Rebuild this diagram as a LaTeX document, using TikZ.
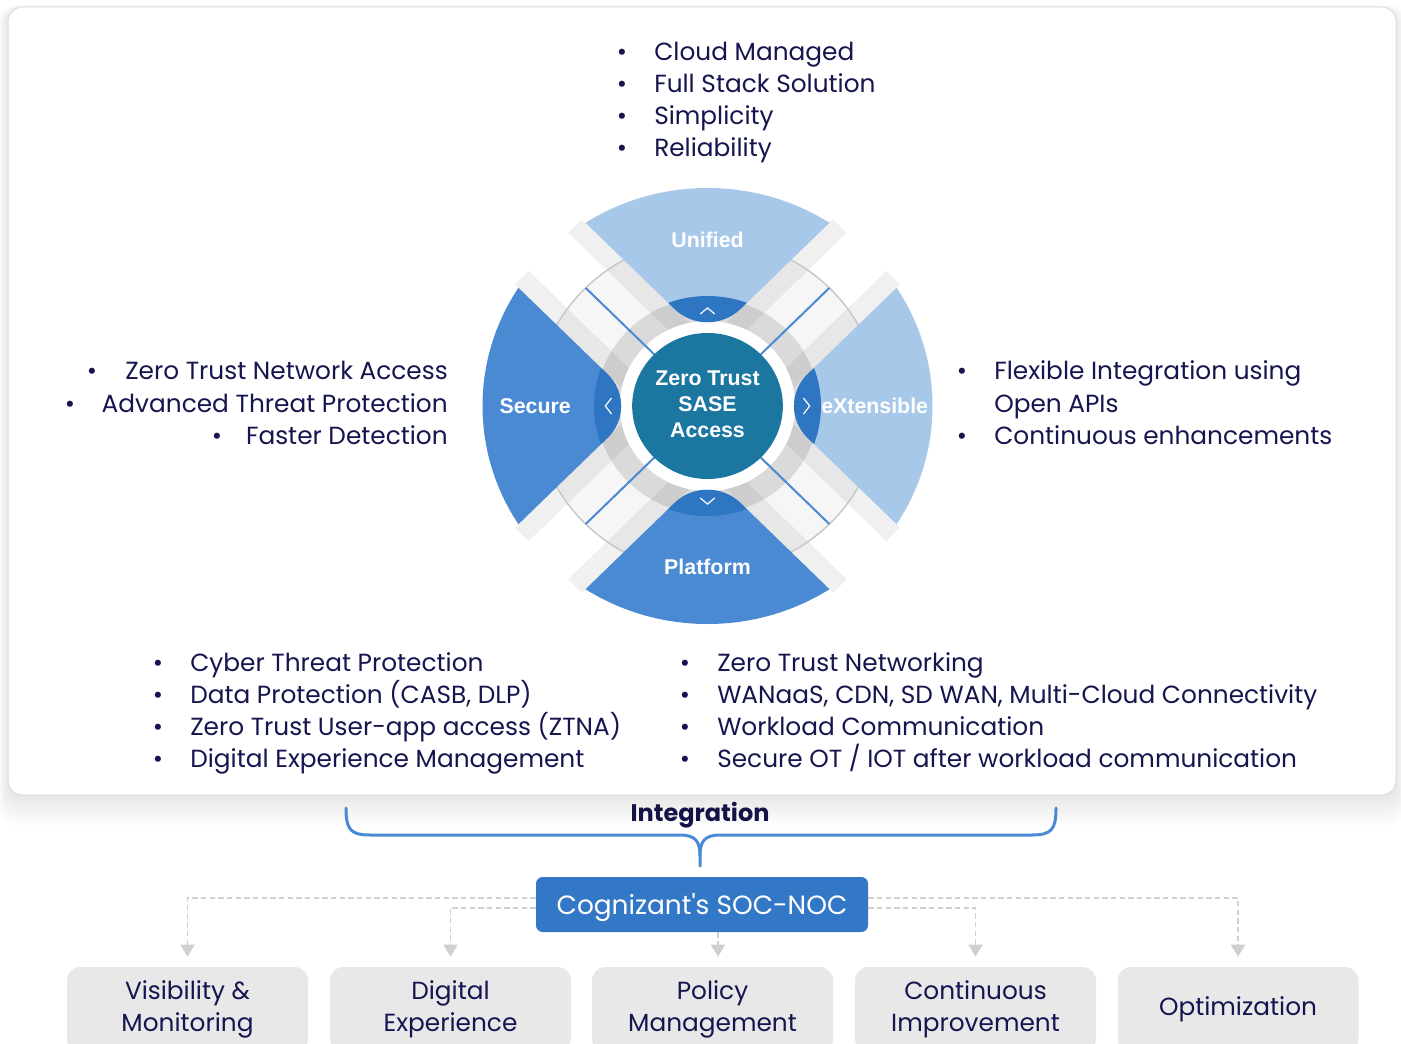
\documentclass[tikz,border=0pt]{standalone}
\usepackage{fontspec}
\setmainfont{Poppins}
\newfontfamily\labfont{Liberation Sans}
\usetikzlibrary{calc,arrows.meta}
\definecolor{navy}{HTML}{15154F}
\definecolor{lblue}{HTML}{A8C8EA}
\definecolor{mblue}{HTML}{4A8AD3}
\definecolor{dblue}{HTML}{2F76C2}
\definecolor{ctrteal}{HTML}{1B77A0}
\definecolor{socblue}{HTML}{3278C6}
\definecolor{boxgray}{HTML}{E8E8E8}
\definecolor{dashgray}{HTML}{D0D0D0}
\definecolor{ringgray}{HTML}{DADADA}
\definecolor{ringlight}{HTML}{F6F6F6}
\definecolor{thingray}{HTML}{C8C8C8}
\tikzset{
  txt/.style={font=\fontsize{18.6}{24}\selectfont, text=navy, inner sep=0pt},
  bul/.style={txt, anchor=base},
  lab/.style={font=\labfont\bfseries\fontsize{16}{19.5}\selectfont, text=white, inner sep=0pt, align=center},
  bbox/.style={txt, fill=boxgray, rounded corners=10pt, minimum width=180.75pt, minimum height=63.75pt, align=center},
  dline/.style={draw=dashgray, line width=1.1pt, dash pattern=on 4pt off 2.5pt, shorten >=7.5pt, -{Triangle[width=10.5pt,length=9pt,fill=dashgray]}},
  chev/.style={draw=white, line width=0.9pt},
}
\begin{document}
\begin{tikzpicture}[x=0.75pt,y=-0.75pt]
\useasboundingbox (0,0) rectangle (1401,1044);
% frame with soft shadow
\foreach \i in {1,...,12}
  \fill[black, opacity=0.006, rounded corners=12pt] (8-\i*0.8,7-\i*0.4+3) rectangle (1396+\i*0.8,795+\i*2.5);
\draw[fill=white, draw=black!13, line width=0.75pt, rounded corners=11pt] (8,7) rectangle (1396,795);

% ---------- central diagram ----------
\begin{scope}[shift={(707.5,406)}, x=0.774pt, y=0.75pt]
  \fill[ringlight] (0,0) circle (167);
  \fill[ringgray] (0,0) circle (108);
  \foreach \a in {45,135,225,315} {
    \fill[black, opacity=0.06] ($(\a+90:27)$) -- ($(\a:218)+(\a+90:27)$) -- ($(\a:218)+(\a+90:46)$) -- ($(\a+90:46)$) -- cycle;
    \fill[black, opacity=0.06] ($(\a-90:27)$) -- ($(\a:218)+(\a-90:27)$) -- ($(\a:218)+(\a-90:46)$) -- ($(\a-90:46)$) -- cycle;
  }
  \draw[thingray, line width=1.1pt] (0,0) circle (167);
  \fill[white] (0,0) circle (85);
  \foreach \col/\px/\py/\qx/\qy/\rx/\ry in {lblue/-300/365/0/65/300/365, mblue/-300/-365/0/-65/300/-365, lblue/365/300/65/0/365/-300, mblue/-365/300/-65/0/-365/-300} {
    \begin{scope}
      \clip (0,0) circle (218);
      \fill[\col, rounded corners=34.5pt] (\px,\py) -- (\qx,\qy) -- (\rx,\ry) -- cycle;
    \end{scope}
    \begin{scope}
      \clip (0,0) circle (110);
      \fill[dblue, rounded corners=34.5pt] (\px,\py) -- (\qx,\qy) -- (\rx,\ry) -- cycle;
    \end{scope}
  }
  \foreach \a in {45,135,225,315}
    \draw[mblue, line width=1.5pt] (\a:73) -- (\a:167);
  \fill[ctrteal] (0,0) circle (73);
  \node[lab] (ctr) at (0,2) {Zero Trust\\SASE\\Access};
  \node[lab] (unified) at (0,166) {Unified};
  \node[lab] (secure) at (-167,0) {Secure};
  \node[lab] (extensible) at (162,0) {eXtensible};
  \node[lab] (platform) at (0,-161) {Platform};
  % chevrons
  \draw[chev] (-7,92) -- (0,98) -- (7,92);
  \draw[chev] (-7,-92) -- (0,-98) -- (7,-92);
  \draw[chev] (-93,8) -- (-99,0) -- (-93,-8);
  \draw[chev] (93,8) -- (99,0) -- (93,-8);
\end{scope}

% ---------- bullet lists ----------
% top
\node[bul] (tb1) at (622,61) {•};  \node[txt,anchor=base west] (t1) at (654,61) {Cloud Managed};
\node[bul] (tb2) at (622,93) {•};  \node[txt,anchor=base west] (t2) at (654,93) {Full Stack Solution};
\node[bul] (tb3) at (622,125) {•}; \node[txt,anchor=base west] (t3) at (654,125) {Simplicity};
\node[bul] (tb4) at (622,157) {•}; \node[txt,anchor=base west] (t4) at (654,157) {Reliability};
% left
\node[bul] (lb1) at (92,380) {•};  \node[txt,anchor=base east] (l1) at (448,380) {Zero Trust Network Access};
\node[bul] (lb2) at (70,412) {•};  \node[txt,anchor=base east] (l2) at (448,412) {Advanced Threat Protection};
\node[bul] (lb3) at (217,444) {•}; \node[txt,anchor=base east] (l3) at (448,444) {Faster Detection};
% right
\node[bul] (rb1) at (962,380) {•}; \node[txt,anchor=base west] (r1) at (994,380) {Flexible Integration using};
                                    \node[txt,anchor=base west] (r2) at (994,412) {Open APIs};
\node[bul] (rb3) at (962,444) {•}; \node[txt,anchor=base west] (r3) at (994,444) {Continuous enhancements};
% bottom left
\node[bul] (blb1) at (158,671) {•}; \node[txt,anchor=base west] (bl1) at (190,671) {Cyber Threat Protection};
\node[bul] (blb2) at (158,703) {•}; \node[txt,anchor=base west] (bl2) at (190,703) {Data Protection (CASB, DLP)};
\node[bul] (blb3) at (158,735) {•}; \node[txt,anchor=base west] (bl3) at (190,735) {Zero Trust User-app access (ZTNA)};
\node[bul] (blb4) at (158,767) {•}; \node[txt,anchor=base west] (bl4) at (190,767) {Digital Experience Management};
% bottom right
\node[bul] (brb1) at (685,671) {•}; \node[txt,anchor=base west] (br1) at (717,671) {Zero Trust Networking};
\node[bul] (brb2) at (685,703) {•}; \node[txt,anchor=base west] (br2) at (717,703) {WANaaS, CDN, SD WAN, Multi-Cloud Connectivity};
\node[bul] (brb3) at (685,735) {•}; \node[txt,anchor=base west] (br3) at (717,735) {Workload Communication};
\node[bul] (brb4) at (685,767) {•}; \node[txt,anchor=base west] (br4) at (717,767) {Secure OT / IOT after workload communication};

% ---------- integration ----------
\node[txt, font=\fontsize{18}{22}\selectfont\bfseries, text=navy!90!black] (integ) at (700,815) {Integration};
\draw[mblue, line width=2.25pt, line cap=round]
  (346,808) .. controls (346,829) and (350,835) .. (370,835) -- (680,835)
  .. controls (696,835) and (700,842) .. (700,856) -- (700,866);
\draw[mblue, line width=2.25pt, line cap=round]
  (1056,808) .. controls (1056,829) and (1052,835) .. (1032,835) -- (720,835)
  .. controls (704,835) and (700,842) .. (700,856);

\node[fill=socblue, rounded corners=5pt, minimum width=249pt, minimum height=41.25pt, inner sep=0pt,
      text=white, text depth=1pt, font=\fontsize{19.8}{22}\selectfont] (soc) at (702,904.5) {Cognizant\textquotesingle s SOC-NOC};

% ---------- bottom boxes ----------
\node[bbox] (b1) at (187.5,1009.5) {Visibility \&\\Monitoring};
\node[bbox] (b2) at (450.5,1009.5) {Digital\\Experience};
\node[bbox] (b3) at (712.5,1009.5) {Policy\\Management};
\node[bbox] (b4) at (975.5,1009.5) {Continuous\\Improvement};
\node[bbox] (b5) at (1238,1009.5) {Optimization};

\draw[dline] ($(soc.west)+(0,-6.5)$) -| (b1.north);
\draw[dline] ($(soc.west)+(0,3.5)$) -| (b2.north);
\draw[dline] ($(soc.south)+(16,0)$) -- ($(b3.north)+(5.5,0)$);
\draw[dline] ($(soc.east)+(0,3.5)$) -| (b4.north);
\draw[dline] ($(soc.east)+(0,-6.5)$) -| (b5.north);
\end{tikzpicture}
\end{document}
